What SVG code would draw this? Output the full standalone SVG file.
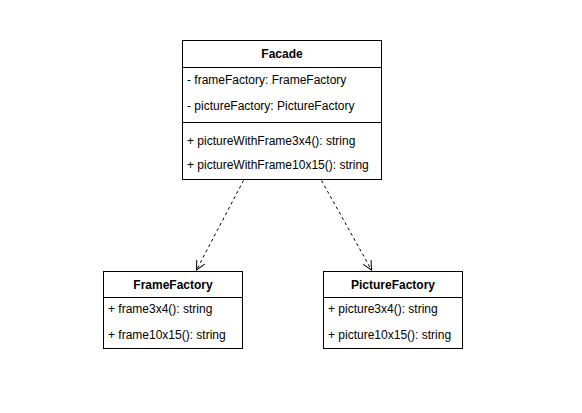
<svg xmlns="http://www.w3.org/2000/svg" width="582" height="413" viewBox="0 0 582 413">
<style>
.box{fill:#fff;stroke:#000;stroke-width:1}
.ln{stroke:#000;stroke-width:1;fill:none}
.t{font-family:"Liberation Sans",Arial,sans-serif;font-size:12px;fill:#000}
.h{font-family:"Liberation Sans",Arial,sans-serif;font-size:12px;font-weight:bold;fill:#000;text-anchor:middle}
.dep{stroke:#000;stroke-width:1;fill:none;stroke-dasharray:3 3}
</style>
<defs>
<marker id="open" markerWidth="12" markerHeight="12" refX="10" refY="5" orient="auto" markerUnits="userSpaceOnUse">
<path d="M1,0.5 L10,5 L1,9.5" fill="none" stroke="#000" stroke-width="1"/>
</marker>
</defs>
<rect width="582" height="413" fill="#fff"/>
<g id="connectors">
<path class="dep" d="M243.5,180.5 L196.5,270" marker-end="url(#open)"/>
<path class="dep" d="M321.5,180.5 L371.5,270" marker-end="url(#open)"/>
</g>
<g id="Facade">
<rect class="box" x="182.5" y="40.5" width="199" height="139"/>
<line class="ln" x1="182.5" y1="67.5" x2="381.5" y2="67.5"/>
<line class="ln" x1="182.5" y1="122.5" x2="381.5" y2="122.5"/>
<text class="h" x="282" y="58">Facade</text>
<text class="t" x="187" y="84">- frameFactory: FrameFactory</text>
<text class="t" x="187" y="110">- pictureFactory: PictureFactory</text>
<text class="t" x="187" y="145">+ pictureWithFrame3x4(): string</text>
<text class="t" x="187" y="169">+ pictureWithFrame10x15(): string</text>
</g>
<g id="FrameFactory">
<rect class="box" x="103.5" y="271.5" width="139" height="77"/>
<line class="ln" x1="103.5" y1="297.5" x2="242.5" y2="297.5"/>
<text class="h" x="173" y="289">FrameFactory</text>
<text class="t" x="108" y="313">+ frame3x4(): string</text>
<text class="t" x="108" y="339">+ frame10x15(): string</text>
</g>
<g id="PictureFactory">
<rect class="box" x="323.5" y="271.5" width="139" height="77"/>
<line class="ln" x1="323.5" y1="297.5" x2="462.5" y2="297.5"/>
<text class="h" x="393" y="289">PictureFactory</text>
<text class="t" x="328" y="313">+ picture3x4(): string</text>
<text class="t" x="328" y="339">+ picture10x15(): string</text>
</g>
</svg>
